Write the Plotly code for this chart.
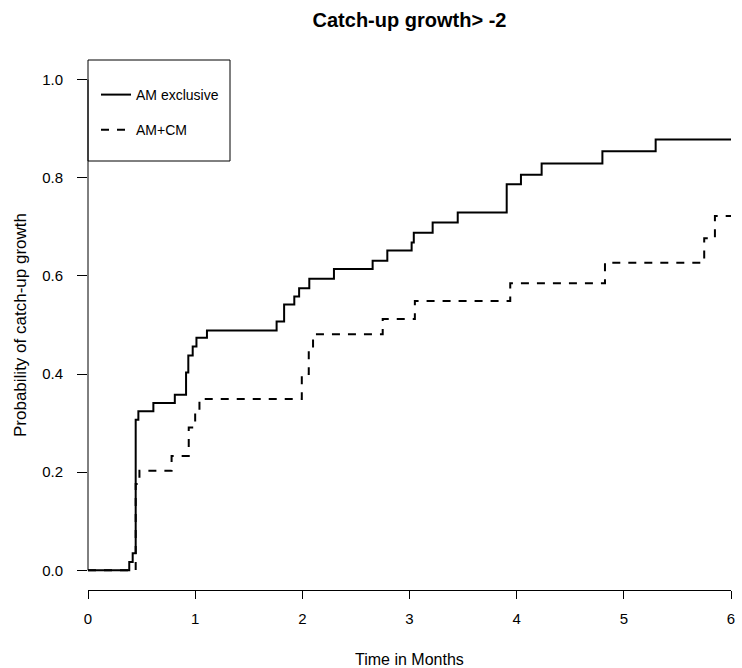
import plotly.graph_objects as go

# ---- data ----
am_excl_time = [0, 0.385, 0.417, 0.445, 0.47, 0.61, 0.81, 0.915, 0.936, 0.977, 1.012,
                1.11, 1.76, 1.83, 1.925, 1.97, 2.065, 2.295, 2.656, 2.793, 3.02, 3.04,
                3.216, 3.45, 3.907, 4.04, 4.233, 4.8, 5.297, 6.0]
am_excl_prob = [0, 0.017, 0.035, 0.307, 0.324, 0.341, 0.358, 0.403, 0.438, 0.456, 0.474,
                0.489, 0.507, 0.542, 0.558, 0.575, 0.594, 0.614, 0.631, 0.652, 0.668, 0.688,
                0.709, 0.729, 0.787, 0.806, 0.829, 0.854, 0.878, 0.878]

am_cm_time = [0, 0.445, 0.48, 0.78, 0.94, 1.0, 1.04, 1.995, 2.06, 2.1, 2.75, 3.05,
              3.94, 4.824, 5.75, 5.85, 6.0]
am_cm_prob = [0, 0.176, 0.203, 0.233, 0.291, 0.322, 0.349, 0.40, 0.45, 0.481, 0.512, 0.549,
              0.585, 0.627, 0.677, 0.722, 0.722]

series_names = ["AM exclusive", "AM+CM"]
x_ticks = [0, 1, 2, 3, 4, 5, 6]
y_ticks = [0.0, 0.2, 0.4, 0.6, 0.8, 1.0]
y_tick_text = ["0.0", "0.2", "0.4", "0.6", "0.8", "1.0"]

title_text = "Catch-up growth> -2"
x_title = "Time in Months"
y_title = "Probability of catch-up growth"

SANS = "Liberation Sans, Arial, sans-serif"

W, H = 742, 668
L, R, T, B = 88, 11, 60, 78
PW, PH = W - L - R, H - T - B


def px_x(p):
    return (p - L) / PW


def px_y(p):
    return (H - B - p) / PH


fig = go.Figure()
fig.add_trace(go.Scatter(
    x=am_excl_time, y=am_excl_prob, mode="lines", name=series_names[0],
    line=dict(shape="hv", color="black", width=2),
    legendgroup="a", showlegend=True))
fig.add_trace(go.Scatter(
    x=am_cm_time, y=am_cm_prob, mode="lines", name=series_names[1],
    line=dict(shape="hv", color="black", width=2, dash="8px,8px"),
    legendgroup="b", showlegend=True))

fig.update_layout(
    width=W, height=H, autosize=False,
    margin=dict(l=L, r=R, t=T, b=B, pad=0, autoexpand=False),
    paper_bgcolor="white", plot_bgcolor="white",
    font=dict(family=SANS, color="black"),
    title=dict(text=title_text, x=0.5, xref="paper", xanchor="center",
               y=1 - 20 / H, yref="container", yanchor="middle",
               font=dict(family=SANS, size=20, weight="bold", color="black")),
    xaxis=dict(range=[0, 6], tickvals=x_ticks, showgrid=False, zeroline=False,
               automargin=False,
               showline=True, linecolor="black", linewidth=1,
               ticks="outside", ticklen=8, tickcolor="black", tickwidth=1,
               tickfont=dict(family=SANS, size=15, color="black"),
               ticklabelstandoff=7),
    yaxis=dict(range=[-0.04, 1.04], tickvals=y_ticks, ticktext=y_tick_text,
               showgrid=False, zeroline=False, showline=False, automargin=False,
               ticks="outside", ticklen=10, tickcolor="black", tickwidth=1,
               tickfont=dict(family=SANS, size=15, color="black"),
               ticklabelstandoff=11),
    showlegend=True,
    legend=dict(x=px_x(96), y=px_y(79), xanchor="left", yanchor="top",
                bgcolor="rgba(0,0,0,0)", borderwidth=0,
                font=dict(family=SANS, size=14, color="black"),
                itemwidth=30, traceorder="grouped", tracegroupgap=14),
)

# y axis line spanning the tick range only (R style)
fig.add_shape(type="line", xref="paper", yref="y", x0=0, x1=0, y0=0, y1=1,
              line=dict(color="black", width=1))
# legend box
fig.add_shape(type="rect", xref="paper", yref="paper",
              x0=px_x(88), x1=px_x(230), y0=px_y(161), y1=px_y(60),
              line=dict(color="black", width=1), fillcolor="rgba(0,0,0,0)")

# axis titles
fig.add_annotation(text=x_title, xref="paper", yref="paper", x=0.5, y=px_y(659),
                   xanchor="center", yanchor="middle", showarrow=False,
                   font=dict(family=SANS, size=16, color="black"))
fig.add_annotation(text=y_title, xref="paper", yref="paper", x=px_x(20), y=0.5,
                   xanchor="center", yanchor="middle", showarrow=False, textangle=-90,
                   font=dict(family=SANS, size=17, color="black"))

fig.write_html("out.html",
               config={"displayModeBar": False, "responsive": False},
               post_script="document.body.style.margin='0';document.body.style.padding='0';"
                           "document.body.style.overflow='hidden';")
